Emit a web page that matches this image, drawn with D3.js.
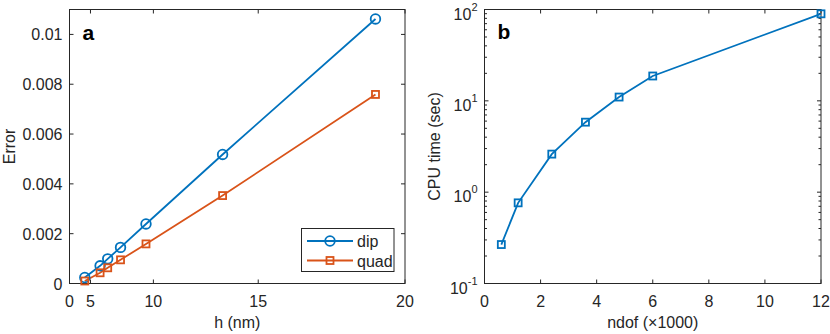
<!DOCTYPE html>
<html>
  <head>
    <meta charset='UTF-8'/>
    <script src="https://cdn.jsdelivr.net/npm/d3@7"></script>
    <style>
      body { margin: 0; background: white; }
      svg { font-family: "Liberation Sans", Arial, Helvetica, sans-serif; }
      .tick-label { font-size: 16px; fill: #262626; }
      .axis-label { font-size: 16px; fill: #262626; }
      .panel-letter { font-size: 21px; font-weight: bold; fill: black; }
      .frame { fill: none; stroke: #262626; stroke-width: 1; }
      .tick { stroke: #262626; stroke-width: 1; }
    </style>
  </head>
  <body>
    <svg id='fig' width='830' height='334'></svg>
    <script>
      // panel a : error against mesh size
      const hNm     = [4.27, 6.04, 6.75, 7.80, 9.55, 13.51, 19.10]
      const errDip  = [0.00024, 0.00071, 0.00099, 0.00145, 0.00239, 0.00518, 0.01062]
      const errQuad = [0.00010, 0.00043, 0.00063, 0.00095, 0.00159, 0.00353, 0.00759]
      const hTicks  = [0, 5, 10, 15, 20]
      const errTicks = [0, 0.002, 0.004, 0.006, 0.008, 0.01]
      const errTickLabels = ["0", "0.002", "0.004", "0.006", "0.008", "0.01"]

      // panel b : cpu time against ndof
      const ndof    = [0.6, 1.2, 2.4, 3.6, 4.8, 6, 12]
      const cpuTime = [0.267, 0.764, 2.61, 5.84, 11.0, 18.7, 89.7]
      const ndofTicks = [0, 2, 4, 6, 8, 10, 12]
      const cpuExps = [-1, 0, 1, 2]

      const blue = "#0072BD", orange = "#D95319"
      const tl = 4
      const svg = d3.select("#fig")

      function frame(g, x0, x1, y0, y1) {
	  g.append("rect").attr("class", "frame")
	      .attr("x", x0).attr("y", y0)
	      .attr("width", x1 - x0).attr("height", y1 - y0)
      }

      function xTicks(g, x, vals, y0, y1, fmt) {
	  vals.forEach(v => {
	      const px = x(v)
	      g.append("line").attr("class", "tick")
		  .attr("x1", px).attr("x2", px).attr("y1", y1).attr("y2", y1 - tl)
	      g.append("line").attr("class", "tick")
		  .attr("x1", px).attr("x2", px).attr("y1", y0).attr("y2", y0 + tl)
	      g.append("text").attr("class", "tick-label")
		  .attr("x", px).attr("y", y1 + 23.5)
		  .attr("text-anchor", "middle").text(fmt(v))
	  })
      }

      function yTickLines(g, py, x0, x1, len) {
	  g.append("line").attr("class", "tick")
	      .attr("x1", x0).attr("x2", x0 + len).attr("y1", py).attr("y2", py)
	  g.append("line").attr("class", "tick")
	      .attr("x1", x1).attr("x2", x1 - len).attr("y1", py).attr("y2", py)
      }

      function circles(g, pts, color) {
	  g.selectAll(null).data(pts).join("circle")
	      .attr("cx", d => d[0]).attr("cy", d => d[1]).attr("r", 4.8)
	      .attr("fill", "none").attr("stroke", color).attr("stroke-width", 1.8)
      }

      function squares(g, pts, color, s) {
	  g.selectAll(null).data(pts).join("rect")
	      .attr("x", d => d[0] - s/2).attr("y", d => d[1] - s/2)
	      .attr("width", s).attr("height", s)
	      .attr("fill", "none").attr("stroke", color).attr("stroke-width", 1.8)
      }

      const line = d3.line()

      ////////////////////////////////////////////////////////////
      // panel a
      {
	  const L = 69.5, R = 405, T = 9.5, B = 283.5
	  const g = svg.append("g")
	  // the axis is drawn quadratic in h
	  const x = d3.scalePow().exponent(2).domain([0, 20]).range([L, R])
	  const y = d3.scaleLinear().domain([0, 0.011]).range([B, T])

	  frame(g, L, R, T, B)
	  xTicks(g, x, hTicks, T, B, d => d)
	  errTicks.forEach((v, i) => {
	      yTickLines(g, y(v), L, R, tl)
	      g.append("text").attr("class", "tick-label")
		  .attr("x", L - 7).attr("y", y(v) + 6)
		  .attr("text-anchor", "end").text(errTickLabels[i])
	  })

	  const dip = hNm.map((h, i) => [x(h), y(errDip[i])])
	  const quad = hNm.map((h, i) => [x(h), y(errQuad[i])])
	  g.append("path").attr("d", line(dip)).attr("fill", "none")
	      .attr("stroke", blue).attr("stroke-width", 1.8)
	  g.append("path").attr("d", line(quad)).attr("fill", "none")
	      .attr("stroke", orange).attr("stroke-width", 1.8)
	  circles(g, dip, blue)
	  squares(g, quad, orange, 7)

	  g.append("text").attr("class", "axis-label")
	      .attr("transform", `translate(15,${(T + B)/2}) rotate(-90)`)
	      .attr("text-anchor", "middle").text("Error")
	  g.append("text").attr("class", "axis-label")
	      .attr("x", (L + R)/2).attr("y", 328)
	      .attr("text-anchor", "middle").text("h (nm)")
	  g.append("text").attr("class", "panel-letter")
	      .attr("x", 82.5).attr("y", 40).text("a")

	  // legend
	  const lg = g.append("g")
	  lg.append("rect").attr("x", 301.5).attr("y", 228.5)
	      .attr("width", 92.5).attr("height", 43)
	      .attr("fill", "white").attr("stroke", "#262626").attr("stroke-width", 1)
	  const rows = [["dip", blue, "c", 241], ["quad", orange, "s", 260.5]]
	  rows.forEach(([name, c, m, yy]) => {
	      lg.append("line").attr("x1", 307).attr("x2", 353)
		  .attr("y1", yy).attr("y2", yy)
		  .attr("stroke", c).attr("stroke-width", 1.8)
	      if (m == "c") circles(lg, [[330, yy]], c)
	      else squares(lg, [[330, yy]], c, 7)
	      lg.append("text").attr("class", "tick-label")
		  .attr("x", 357).attr("y", yy + 6).text(name)
	  })
      }

      ////////////////////////////////////////////////////////////
      // panel b
      {
	  const L = 484.5, R = 821, T = 9.5, B = 283.5
	  const g = svg.append("g")
	  const x = d3.scaleLinear().domain([0, 12]).range([L, R])
	  const y = d3.scaleLog().domain([0.1, 100]).range([B, T])

	  frame(g, L, R, T, B)
	  xTicks(g, x, ndofTicks, T, B, d => d)
	  cpuExps.forEach(e => {
	      const v = Math.pow(10, e)
	      yTickLines(g, y(v), L, R, tl)
	      const t = g.append("text").attr("class", "tick-label")
		  .attr("x", L - 7).attr("y", y(v) + 10)
		  .attr("text-anchor", "end")
	      t.append("tspan").text("10")
	      t.append("tspan").attr("dy", -9).attr("font-size", "11px").text(e)
	      if (e < 2) {
		  for (let k = 2; k <= 9; k++) yTickLines(g, y(k*v), L, R, 2.5)
	      }
	  })

	  const pts = ndof.map((n, i) => [x(n), y(cpuTime[i])])
	  g.append("path").attr("d", line(pts)).attr("fill", "none")
	      .attr("stroke", blue).attr("stroke-width", 1.8)
	  squares(g, pts, blue, 7)

	  g.append("text").attr("class", "axis-label")
	      .attr("transform", `translate(440,${(T + B)/2}) rotate(-90)`)
	      .attr("text-anchor", "middle").text("CPU time (sec)")
	  g.append("text").attr("class", "axis-label")
	      .attr("x", (L + R)/2).attr("y", 328)
	      .attr("text-anchor", "middle").text("ndof (\u00d71000)")
	  g.append("text").attr("class", "panel-letter")
	      .attr("x", 497.5).attr("y", 39).text("b")
      }
    </script>
  </body>
</html>
